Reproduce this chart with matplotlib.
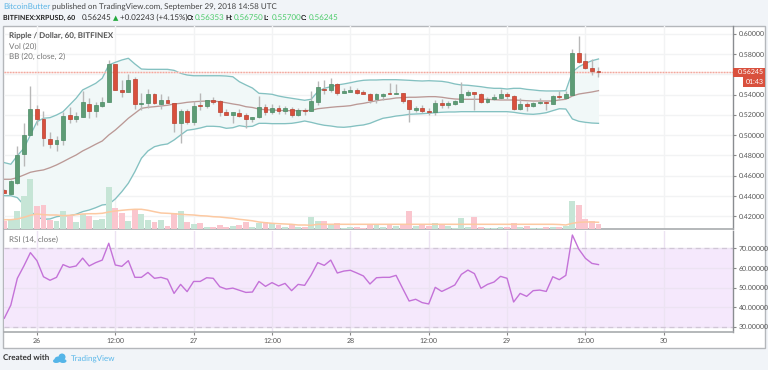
import matplotlib
matplotlib.use("Agg")
import matplotlib.pyplot as plt
from matplotlib.patches import Rectangle, Ellipse
import numpy as np

opens = [.4464,.4418,.4532,.4811,.5001,.5257,.5156,.4959,.4916,.4952,.5198,.5162,.5181,.5310,.5238,.5284,.5329,.5701,.5442,.5422,
 .5550,.5307,.5313,.5402,.5307,.5343,.5313,.5122,.5238,.5129,.5297,.5290,.5343,.5333,.5228,.5201,.5218,.5195,.5162,.5176,
 .5274,.5228,.5267,.5238,.5260,.5198,.5250,.5238,.5326,.5457,.5445,.5507,.5412,.5428,.5442,.5422,.5405,.5356,.5388,.5412,
 .5402,.5412,.5346,.5247,.5270,.5241,.5228,.5316,.5297,.5304,.5329,.5398,.5422,.5405,.5326,.5353,.5366,.5405,.5385,.5257,
 .5307,.5284,.5313,.5326,.5307,.5388,.5369,.5398,.5812,.5727,.5661,.5635]
closes = [.4430,.4547,.4804,.5001,.5257,.5156,.4969,.4916,.4955,.5191,.5162,.5188,.5323,.5238,.5294,.5329,.5701,.5442,.5422,.5543,
 .5307,.5313,.5402,.5313,.5343,.5313,.5122,.5238,.5129,.5287,.5290,.5343,.5329,.5231,.5201,.5225,.5188,.5162,.5176,.5280,
 .5231,.5267,.5238,.5264,.5195,.5250,.5241,.5336,.5471,.5445,.5507,.5412,.5435,.5442,.5418,.5402,.5346,.5402,.5405,.5402,
 .5412,.5339,.5254,.5270,.5238,.5231,.5316,.5297,.5316,.5336,.5402,.5422,.5402,.5326,.5359,.5373,.5402,.5385,.5257,.5307,
 .5284,.5316,.5326,.5313,.5388,.5376,.5402,.5812,.5723,.5658,.5629,.5625]
highs = [.4469,.4557,.4896,.5116,.5484,.5297,.5238,.5028,.4991,.5225,.5280,.5231,.5435,.5363,.5329,.5379,.5743,.5701,.5543,.5602,
 .5570,.5412,.5451,.5418,.5405,.5385,.5319,.5257,.5257,.5339,.5418,.5346,.5373,.5346,.5254,.5228,.5254,.5215,.5179,.5385,
 .5304,.5304,.5297,.5287,.5274,.5264,.5264,.5435,.5536,.5543,.5560,.5516,.5461,.5484,.5461,.5445,.5418,.5418,.5418,.5516,
 .5501,.5412,.5346,.5287,.5297,.5264,.5346,.5353,.5339,.5346,.5526,.5445,.5425,.5412,.5373,.5405,.5451,.5428,.5395,.5363,
 .5329,.5329,.5363,.5336,.5395,.5435,.5438,.5845,.5973,.5806,.5747,.5675]
lows = [.4430,.4415,.4516,.4699,.5001,.5100,.4896,.4876,.4844,.4903,.5116,.5126,.5181,.5166,.5181,.5280,.5329,.5442,.5379,.5422,
 .5254,.5247,.5264,.5304,.5254,.5313,.5034,.4919,.5107,.5100,.5247,.5264,.5307,.5188,.5195,.5122,.5181,.5067,.5132,.5166,
 .5198,.5208,.5208,.5208,.5181,.5188,.5198,.5238,.5294,.5402,.5428,.5392,.5412,.5428,.5405,.5402,.5313,.5319,.5346,.5402,
 .5402,.5313,.5132,.5225,.5215,.5198,.5198,.5264,.5264,.5297,.5329,.5385,.5247,.5319,.5313,.5346,.5353,.5353,.5247,.5247,
 .5238,.5274,.5307,.5247,.5307,.5346,.5363,.5398,.5707,.5648,.5592,.5575]
bb_upper = [.4729,.4713,.4797,.4870,.5001,.5132,.5166,.5172,.5198,.5231,.5297,.5363,.5445,.5477,.5510,.5560,.5691,.5717,.5740,.5757,
 .5701,.5651,.5648,.5648,.5648,.5648,.5638,.5609,.5592,.5585,.5585,.5585,.5585,.5585,.5582,.5575,.5526,.5494,.5464,.5412,
 .5408,.5402,.5385,.5373,.5363,.5353,.5343,.5353,.5428,.5461,.5477,.5494,.5504,.5516,.5530,.5540,.5543,.5543,.5546,.5546,
 .5546,.5543,.5540,.5536,.5533,.5536,.5533,.5530,.5520,.5504,.5494,.5491,.5484,.5477,.5467,.5461,.5461,.5454,.5461,.5461,
 .5451,.5445,.5438,.5435,.5435,.5435,.5438,.5622,.5674,.5707,.5733,.5750]
bb_basis = [.4565,.4565,.4581,.4607,.4634,.4647,.4657,.4679,.4706,.4738,.4772,.4804,.4844,.4876,.4910,.4942,.5001,.5050,.5107,.5166,
 .5215,.5264,.5274,.5280,.5287,.5294,.5307,.5313,.5323,.5329,.5333,.5336,.5336,.5329,.5319,.5307,.5297,.5280,.5272,.5257,
 .5250,.5247,.5244,.5241,.5241,.5241,.5241,.5244,.5260,.5267,.5274,.5280,.5284,.5290,.5304,.5313,.5326,.5339,.5349,.5356,
 .5366,.5369,.5373,.5373,.5376,.5379,.5379,.5373,.5363,.5356,.5353,.5353,.5353,.5353,.5353,.5349,.5346,.5346,.5346,.5343,
 .5339,.5336,.5336,.5336,.5336,.5346,.5353,.5385,.5405,.5415,.5425,.5438]
bb_lower = [.4403,.4403,.4384,.4312,.4253,.4191,.4171,.4174,.4196,.4206,.4206,.4220,.4246,.4262,.4285,.4312,.4319,.4371,.4443,.4526,
 .4640,.4772,.4844,.4886,.4903,.4913,.4952,.5001,.5048,.5057,.5070,.5087,.5087,.5083,.5067,.5073,.5093,.5083,.5087,.5116,
 .5116,.5113,.5113,.5113,.5116,.5126,.5139,.5126,.5110,.5097,.5090,.5080,.5077,.5083,.5093,.5100,.5116,.5142,.5166,.5176,
 .5188,.5195,.5205,.5208,.5211,.5215,.5221,.5225,.5228,.5228,.5231,.5231,.5231,.5231,.5231,.5231,.5231,.5231,.5225,.5215,
 .5208,.5205,.5211,.5221,.5241,.5260,.5257,.5159,.5136,.5126,.5119,.5116]
volume = [7.7,8.7,18.3,32.7,50,23.3,24.3,9.3,7.7,18.3,13.7,6.7,15,13.3,8.7,10.3,42,21,16,7.7,
 20.3,15.3,9.3,6.7,9.3,3,16,18,6.7,5.3,6.3,2.3,2.3,4.3,2.3,3,3.7,6.7,2.2,5.7,
 6.7,5.7,4,2.3,5,2,2,12.3,8,8,4,5.7,1.3,2,2,1.3,5,4.3,1.7,4.7,
 3,4,17.7,3,4,3.3,5.7,5,3,.7,11,2,11.7,2.3,.7,1.3,2,2.3,5.7,2,
 3,1,1,2.3,2,2.3,3.3,28,24.3,10,8,5]
volume_ma = [9.3,9.3,10,11.7,13.7,15,14.3,14,14,13.3,13.7,14.3,15,15.3,15.3,15.7,17,18,18.7,19.3,
 19.7,19.7,18.7,17.3,16,15.7,15.3,14.7,14.3,14,13.3,13,12.3,12,11.3,10.7,9.7,9,8.2,7,
 6.3,5.7,5.3,5,4.7,4,4,3.7,4.7,4.7,4.7,4.7,4.7,4.7,4.7,4.7,4.7,4.7,4.7,4.7,
 4.7,4.7,4.7,4.7,4.7,4.7,4.7,4.7,4.7,4.7,4.7,4.7,4.7,4.7,4.7,4.7,4.7,4.7,4.7,4.7,
 4.7,4.7,4.7,4.7,4.7,4.5,4,5.7,6.7,7,7,6.7]
rsi = [34.3,41,54.7,61,67.8,63.7,55.5,53.7,55.2,61.7,60.3,61,65,61,62.7,64,72.6,61.5,60.8,63.7,
 55.2,55.2,57.7,54.7,55.2,54.2,47,51.6,47.9,53.1,53.1,55,54.7,50.4,49.2,49.7,48.6,47.5,47.7,53.1,
 50.6,52.5,50.8,52.1,48.4,51.6,51.1,56.4,62.7,61.3,64,57.4,58.4,58.8,57.4,55.9,51.8,55,55.2,55.2,
 56.2,49.6,43.1,44,42.3,41.6,50.1,48,49.6,51.3,56.7,58.9,57.1,49.6,51.6,52.8,55.7,54.7,42.6,47,
 45.5,48.4,48.7,48,55.5,54,56.2,76.8,69.5,64.9,62.3,61.7]
time_tick_bars = [5,17,29,41,53,65,77,89,101]
time_tick_labels = ["26","12:00","27","12:00","28","12:00","29","12:00","30"]
price_ticks = [.42,.44,.46,.48,.50,.52,.54,.56,.58,.60]
rsi_ticks = [30,40,50,60,70]
last_price = .56245

plt.rcParams['font.family'] = ['Lato', 'DejaVu Sans']
plt.rcParams['text.hinting'] = 'no_hinting'
plt.rcParams['text.hinting_factor'] = 1
W, H = 768, 370
BG = '#f1f4f8'
TICK = 4.7
fig = plt.figure(figsize=(W/100, H/100), dpi=100, facecolor=BG)

def rect(l, t, r, b):
    return [l/W, 1-b/H, (r-l)/W, (b-t)/H]

x = np.arange(len(opens))
XL = (-0.12, 111.6)
# whole chart frame
fig.add_artist(Rectangle((3/W, 1-348/H), 762/W, 322/H, transform=fig.transFigure,
                         fc='white', ec='#b4b7bb', lw=1.0, zorder=0))

ax = fig.add_axes(rect(3.5, 26, 733, 229))
ax.set_xlim(*XL); ax.set_ylim(.4075, .6075)
ax.set_zorder(3)
ax.patch.set_alpha(0)
axv = fig.add_axes(rect(3.5, 26, 733, 229))
axv.set_xlim(*XL); axv.set_ylim(0, 203)
axv.axis('off'); axv.set_zorder(4)

gridc = '#f2f3f4'
ax.set_yticks(price_ticks)
ax.set_yticklabels([f"{p:.5f}" for p in price_ticks], fontsize=TICK, color='#555555')
ax.yaxis.tick_right()
ax.set_xticks(time_tick_bars); ax.set_xticklabels([])
ax.tick_params(axis='x', length=0)
ax.tick_params(axis='y', length=2, color='#888888', pad=2)
ax.grid(True, color=gridc, lw=1.0)
ax.set_axisbelow(True)
for s in ['top', 'left']:
    ax.spines[s].set_visible(False)
ax.spines['right'].set_color('#8a8d91'); ax.spines['right'].set_linewidth(1.0)
ax.spines['bottom'].set_color('#a8abae'); ax.spines['bottom'].set_linewidth(1.2)

vol_col = ['#fac6ce' if c < o else '#c6e5d6' for o, c in zip(opens, closes)]
axv.bar(x, volume, width=.9, color=vol_col, lw=0)
axv.plot(x, volume_ma, color='#fcc9a2', lw=1.1)

ax.fill_between(x, bb_lower, bb_upper, color='#f1f8f8', lw=0, zorder=1.2)
ax.plot(x, bb_upper, color='#84c1c1', lw=.95, zorder=1.5)
ax.plot(x, bb_lower, color='#84c1c1', lw=.95, zorder=1.5)
ax.plot(x, bb_basis, color='#bb9996', lw=.95, zorder=1.5)

ax.axhline(last_price, color='#fbdcd8', lw=1.0, zorder=1.7)
ax.axhline(last_price, color='#f2a79d', lw=1.0, ls=(0, (1, 1)), zorder=1.8)

for i, (o, c, h, l) in enumerate(zip(opens, closes, highs, lows)):
    up = c >= o
    ax.vlines(i, l, h, color='#b8b8b8', lw=1.0, zorder=2)
    ax.bar(i, abs(c-o), bottom=min(o, c), width=.6,
           color='#5e9c76' if up else '#d9503d',
           edgecolor='#4a8a64' if up else '#b8402f', lw=.5, zorder=3)

# RSI pane
axr = fig.add_axes(rect(3.5, 230.5, 733, 332))
axr.set_zorder(3)
axr.set_xlim(*XL); axr.set_ylim(27.3, 79.1)
axr.patch.set_alpha(0)
axr.axhspan(30, 70, color='#f5e8fc', lw=0, zorder=0)
axr.set_yticks(rsi_ticks)
axr.set_yticklabels([f"{r:.5f}" for r in rsi_ticks], fontsize=TICK, color='#555555')
axr.yaxis.tick_right()
axr.tick_params(axis='y', length=2, color='#888888', pad=2)
axr.set_xticks(time_tick_bars)
axr.set_xticklabels(time_tick_labels, fontsize=TICK, color='#555555')
axr.tick_params(axis='x', length=2, color='#888888', pad=2.5)
axr.grid(True, color='#ece3f2', lw=1.0)
axr.set_axisbelow(True)
axr.axhline(70, color='#d0c6d6', lw=.9, ls=(0, (4, 3)), zorder=1)
axr.axhline(30, color='#d0c6d6', lw=.9, ls=(0, (4, 3)), zorder=1)
axr.plot(x, rsi, color='#c472d8', lw=1.0, zorder=3)
for s in ['top', 'left']:
    axr.spines[s].set_visible(False)
axr.spines['right'].set_color('#8a8d91'); axr.spines['right'].set_linewidth(1.0)
axr.spines['bottom'].set_color('#a8abae'); axr.spines['bottom'].set_linewidth(1.2)

# price tags
fig.add_artist(Rectangle((733/W, 1-77/H), 32/W, 9/H, transform=fig.transFigure, fc='#d9503d', ec='none', zorder=8))
fig.add_artist(Rectangle((743/W, 1-87/H), 22/W, 10/H, transform=fig.transFigure, fc='#d9503d', ec='none', zorder=8))

def T(px, py, s, **kw):
    kw.setdefault('fontsize', 5.6); kw.setdefault('va', 'center'); kw.setdefault('ha', 'left')
    kw.setdefault('zorder', 10)
    return fig.text(px/W, 1-py/H, s, **kw)

T(737.5, 72.3, "0.56245", fontsize=TICK, color='white')
T(746, 82.2, "01:43", fontsize=TICK, color='white')

# legends
T(9, 36, "Ripple / Dollar, 60, BITFINEX", color='#555555', fontweight='bold', fontsize=5.5)
T(9, 46.5, "Vol (20)", color='#777777')
T(9, 57, "BB (20, close, 2)", color='#777777')
T(9, 240, "RSI (14, close)", color='#777777')

# header
T(3, 7, "BitcoinButter", color='#5bb5e6', fontsize=5.75)
T(52.5, 7, "published on TradingView.com, September 29, 2018 14:58 UTC", color='#444444', fontsize=5.75)
T(3, 18, "BITFINEX:XRPUSD, 60", color='#222222', fontweight='bold', fontsize=5.3)
T(82, 18, "0.56245", color='#333333')
T(113, 18, "▲", color='#22a83c', fontsize=5.2, family=['DejaVu Sans'])
T(120, 18, "+0.02243 (+4.15%)", color='#333333')
hx = [187, 225.5, 263.5, 301]
for px, k, v in zip(hx, ["O:", "H:", "L:", "C:"], ["0.56353", "0.56750", "0.55700", "0.56245"]):
    T(px, 18, k, color='#222222', fontweight='bold', fontsize=5.3)
    T(px+8, 18, v, color='#4ccb6a')

# footer
T(3, 359, "Created with", color='#333333', fontsize=5.5, fontweight='bold')
for cx, cy, w_, h_ in [(58, 359.5, 7, 6), (62, 357, 7, 7), (56, 361, 6, 4), (63, 361, 7, 4)]:
    fig.add_artist(Ellipse((cx/W, 1-cy/H), w_/W, h_/H, transform=fig.transFigure, fc='#55b5e8', ec='none'))
T(71, 359.5, "TradingView", color='#5bb8ea', fontsize=5.7)

fig.savefig("out.png", dpi=100, facecolor=BG)
